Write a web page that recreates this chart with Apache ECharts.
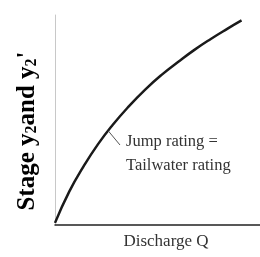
<!DOCTYPE html>
<html>
<head>
<meta charset="utf-8">
<script src="https://cdn.jsdelivr.net/npm/echarts@6/dist/echarts.min.js"></script>
<style>
  html, body { margin: 0; padding: 0; background: #fff; }
  #main { width: 260px; height: 257px; }
</style>
</head>
<body>
<div id="main"></div>
<script>
// rating curve (arbitrary units 0-100)
var dischargeQ = [0, 7, 14, 21, 28, 36, 44, 52, 60, 68, 76, 84, 91];
var stageY = [1, 16, 28, 38.5, 47.5, 56.5, 64.5, 71.5, 77.6, 83.4, 88.6, 93.4, 97.4];
// short leader line from the curve to the note
var leaderQ = [26, 31.7];
var leaderY = [44.8, 38.1];
var noteLines = ['Jump rating =', 'Tailwater rating'];

var chart = echarts.init(document.getElementById('main'), null, { renderer: 'canvas' });

var curve = dischargeQ.map(function (q, i) { return [q, stageY[i]]; });
var leader = leaderQ.map(function (q, i) { return [q, leaderY[i]]; });

var option = {
  animation: false,
  backgroundColor: '#fff',
  grid: { left: 55, top: 15, right: 0, bottom: 32 },
  xAxis: {
    type: 'value', min: 0, max: 100,
    name: 'Discharge Q',
    nameLocation: 'middle',
    nameGap: 8,
    nameTextStyle: {
      fontFamily: 'Liberation Serif', fontSize: 17, color: '#333',
      padding: [0, 0, 0, 17]
    },
    axisLine: { show: true, lineStyle: { color: '#222', width: 1.5 } },
    axisTick: { show: false },
    axisLabel: { show: false },
    splitLine: { show: false }
  },
  yAxis: {
    type: 'value', min: 0, max: 100,
    name: '{b|Stage y}{s|2}{b|and y}{s|2}{b|\'}',
    nameLocation: 'middle',
    nameGap: 15,
    nameRotate: 90,
    nameTextStyle: {
      padding: [0, 22, 0, 0],
      rich: {
        b: { fontFamily: 'Liberation Serif', fontSize: 25, fontWeight: 'bold', color: '#000' },
        s: { fontFamily: 'Liberation Serif', fontSize: 16, fontWeight: 'bold', color: '#000', verticalAlign: 'bottom', padding: [8, 0, 0, 0] }
      }
    },
    axisLine: { show: true, lineStyle: { color: '#c8c8c8', width: 1 } },
    axisTick: { show: false },
    axisLabel: { show: false },
    splitLine: { show: false }
  },
  series: [
    {
      type: 'line',
      data: curve,
      smooth: true,
      symbol: 'none',
      lineStyle: { color: '#1a1a1a', width: 2.5 }
    },
    {
      type: 'line',
      data: leader,
      symbol: 'none',
      lineStyle: { color: '#555', width: 1 }
    }
  ],
  graphic: [
    {
      type: 'text',
      left: 126,
      top: 130,
      style: {
        text: noteLines.join('\n'),
        font: '16.5px "Liberation Serif"',
        lineHeight: 24,
        fill: '#333'
      }
    }
  ]
};

chart.setOption(option);
</script>
</body>
</html>
